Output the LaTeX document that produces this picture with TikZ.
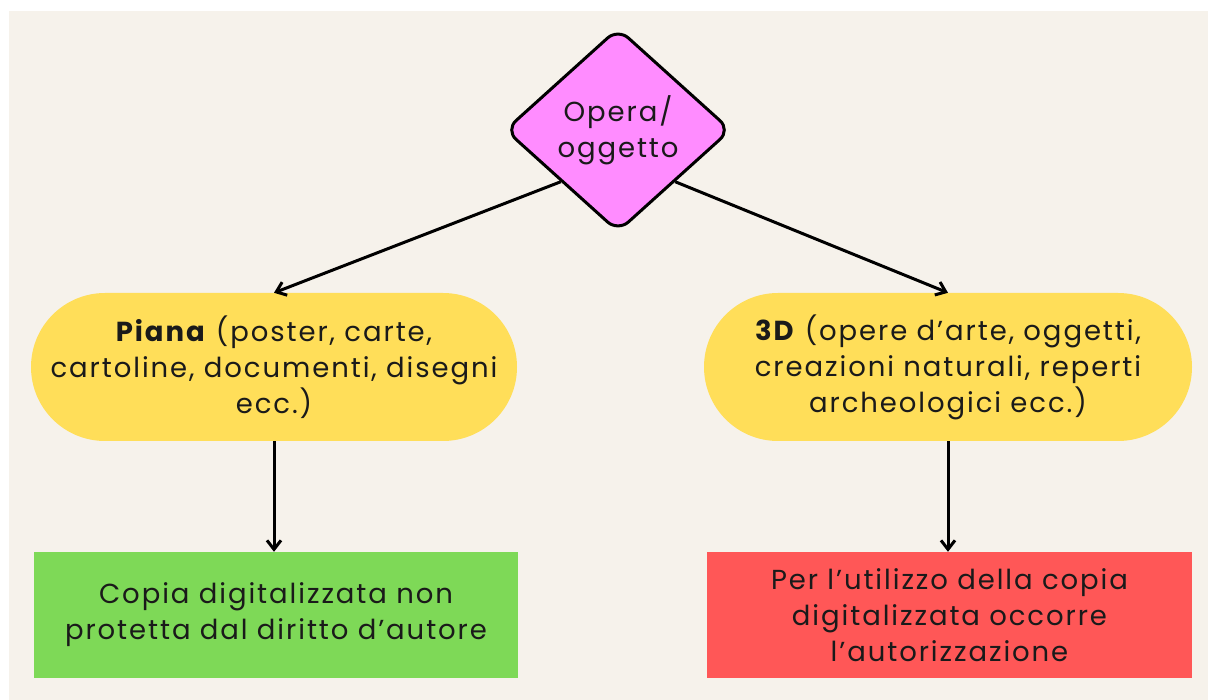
\documentclass[tikz,border=0pt]{standalone}
\usepackage{fontspec}
\setmainfont{Poppins}[LetterSpace=7]
\usetikzlibrary{arrows.meta,shapes.geometric}
\definecolor{bgbeige}{HTML}{F6F2EB}
\definecolor{pinkfill}{HTML}{FF8CFF}
\definecolor{yellowfill}{HTML}{FFDE59}
\definecolor{greenfill}{HTML}{7ED957}
\definecolor{redfill}{HTML}{FF5757}
\definecolor{textdark}{HTML}{1A1A1A}
\tikzset{
  txt/.style={font=\fontsize{27.5}{36}\selectfont, text=textdark, align=center},
  decision/.style={txt, shape=diamond, draw=black, line width=3pt, fill=pinkfill,
    rounded corners=14pt, aspect=1.11, minimum width=226pt, minimum height=204pt, inner sep=0pt},
  pill/.style={txt, fill=yellowfill, rounded corners=74pt, minimum height=148pt, inner sep=0pt},
  result/.style={txt, minimum height=126pt, inner sep=0pt},
  conn/.style={line width=3pt, -{Straight Barb[length=9pt,width=14pt,line width=3pt]}}
}
\begin{document}
\begin{tikzpicture}[x=1pt,y=-1pt]
\useasboundingbox (0,0) rectangle (1208,700);
\fill[white] (0,0) rectangle (1208,700);
\fill[bgbeige] (9,11) rectangle (1208,700);

\node[decision] (dia) at (618,130) {\fontsize{27.5}{33}\selectfont Opera/\\oggetto};
\node[pill, minimum width=486pt] (lp) at (274,367)
  {\textbf{Piana} (poster, carte,\\cartoline, documenti, disegni\\ecc.)};
\node[pill, minimum width=488pt] (rp) at (948,367)
  {\textbf{3D} (opere d’arte, oggetti,\\creazioni naturali, reperti\\archeologici ecc.)};
\node[result, fill=greenfill, minimum width=484pt] (gr) at (276,615)
  {Copia digitalizzata non\\protetta dal diritto d’autore};
\node[result, fill=redfill, minimum width=485pt] (rd) at (949.5,615)
  {Per l’utilizzo della copia\\digitalizzata occorre\\l’autorizzazione};

\draw[conn] (dia.south west) -- (lp.north);
\draw[conn] (dia.south east) -- (rp.north);
\draw[conn] (lp.south) -- (lp.south |- gr.north);
\draw[conn] (rp.south) -- (rp.south |- rd.north);
\end{tikzpicture}
\end{document}
